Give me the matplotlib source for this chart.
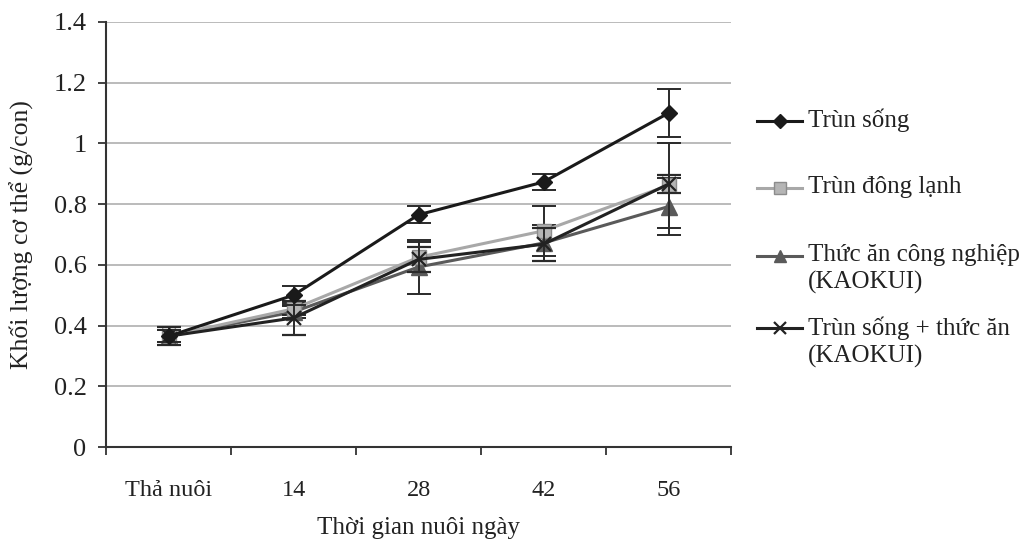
import matplotlib
matplotlib.use("Agg")
import matplotlib.pyplot as plt
from matplotlib.lines import Line2D

categories = ["Thả nuôi", "14", "28", "42", "56"]
series_names = ["Trùn sống", "Trùn đông lạnh", "Thức ăn công nghiệp\n(KAOKUI)",
                "Trùn sống + thức ăn\n(KAOKUI)"]
trun_song = [0.365, 0.50, 0.765, 0.873, 1.10]
trun_song_err = [0.02, 0.032, 0.028, 0.025, 0.08]
trun_dong_lanh = [0.365, 0.455, 0.625, 0.712, 0.862]
trun_dong_lanh_err = [0.02, 0.02, 0.05, 0.082, 0.14]
thuc_an_cn = [0.365, 0.445, 0.593, 0.672, 0.792]
thuc_an_cn_err = [0.02, 0.02, 0.09, 0.06, 0.095]
ket_hop = [0.365, 0.425, 0.618, 0.668, 0.866]
ket_hop_err = [0.03, 0.055, 0.04, 0.055, 0.03]
yticks = [0, 0.2, 0.4, 0.6, 0.8, 1.0, 1.2, 1.4]
ytick_labels = ["0", "0.2", "0.4", "0.6", "0.8", "1", "1.2", "1.4"]

plt.rcParams['font.family'] = ['Liberation Serif', 'DejaVu Serif']

fig = plt.figure(figsize=(10.25, 5.45), dpi=100)
ax = fig.add_axes([106/1025, 1-447/545, 625/1025, 425/545])

x = list(range(len(categories)))
styles = [
    (trun_song, trun_song_err, dict(color="#1a1a1a", marker="D", ms=8.5, mfc="#1a1a1a", mec="#1a1a1a", lw=2.2, zorder=6)),
    (trun_dong_lanh, trun_dong_lanh_err, dict(color="#a8a8a8", marker="s", ms=10, mfc="#b5b5b5", mec="#8c8c8c", lw=2.2, zorder=4)),
    (thuc_an_cn, thuc_an_cn_err, dict(color="#5a5a5a", marker="^", ms=11, mfc="#5a5a5a", mec="#5a5a5a", lw=2.2, zorder=3)),
    (ket_hop, ket_hop_err, dict(color="#222222", marker="x", ms=10, mfc="#222222", mec="#222222", mew=1.6, lw=2.2, zorder=5)),
]
for vals, errs, st in styles:
    ax.errorbar(x, vals, yerr=errs, ecolor="#2a2a2a", elinewidth=1.4, capsize=8.5, capthick=1.4, **st)

ax.set_xlim(-0.5, 4.5)
ax.set_ylim(0, 1.4)
ax.set_yticks(yticks)
ax.set_yticklabels(ytick_labels)
ax.yaxis.grid(True, color="#a8a8a8", lw=1.1)
ax.set_axisbelow(True)
ax.set_xticks(x)
ax.set_xticklabels(categories)
ax.set_xticks([-0.5, 0.5, 1.5, 2.5, 3.5, 4.5], minor=True)
ax.tick_params(axis="x", which="major", length=0, pad=24, labelsize=17.5, colors="#222222")
ax.tick_params(axis="x", which="minor", length=6, width=1.3, color="#333333", direction="out")
ax.tick_params(axis="y", length=6, width=1.3, color="#333333", labelsize=19, pad=8, labelcolor="#222222")
for s in ["top", "right"]:
    ax.spines[s].set_visible(False)
for s in ["left", "bottom"]:
    ax.spines[s].set_color("#333333")
    ax.spines[s].set_linewidth(1.5)

ax.set_xlabel("Thời gian nuôi ngày", fontsize=18, labelpad=11, color="#222222")
ax.set_ylabel("Khối lượng cơ thể (g/con)", fontsize=18.5, labelpad=14, color="#222222")

# manual legend
leg_y = [121, 188, 256, 328]
for (vals, errs, st), name, yy in zip(styles, series_names, leg_y):
    yf = 1 - yy/545
    kw = {k: v for k, v in st.items() if k not in ("zorder",)}
    kw["ms"] = kw["ms"] * 0.85
    line = Line2D([757/1025, 779.5/1025, 802/1025], [yf, yf, yf], transform=fig.transFigure,
                  markevery=[1], **kw)
    fig.add_artist(line)
    fig.text(808/1025, yf + 12/545, name, fontsize=18, va="top", ha="left", color="#222222",
             linespacing=1.3, transform=fig.transFigure)

fig.savefig("out.png", dpi=100)
